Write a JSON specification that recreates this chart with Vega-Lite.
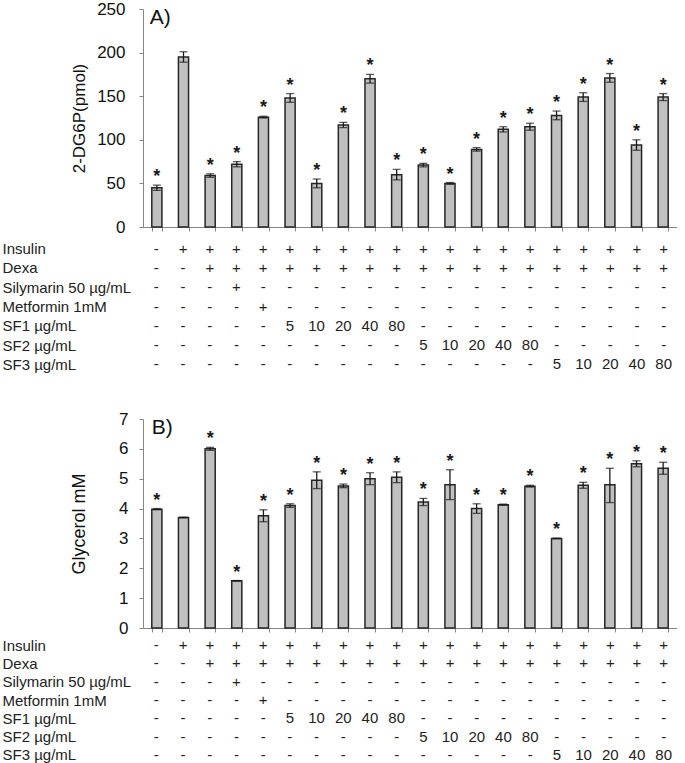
{
  "$schema": "https://vega.github.io/schema/vega-lite/v6.json",
  "padding": {"left": 2, "top": 0, "right": 0, "bottom": 0},
  "config": {
    "view": {"stroke": null},
    "font": "Liberation Sans",
    "axis": {"grid": false, "domainColor": "#868686", "tickColor": "#868686", "labelColor": "#111", "titleColor": "#111", "titleFontWeight": "normal", "labelFont": "Liberation Sans", "titleFont": "Liberation Sans", "labelOverlap": false}
  },
  "datasets": {
    "A": [
      {"i": 1, "v": 45, "lo": 42, "hi": 48, "s": "*"},
      {"i": 2, "v": 195, "lo": 189, "hi": 201, "s": ""},
      {"i": 3, "v": 59, "lo": 57, "hi": 61, "s": "*"},
      {"i": 4, "v": 72, "lo": 69, "hi": 75, "s": "*"},
      {"i": 5, "v": 126, "lo": 125, "hi": 127, "s": "*"},
      {"i": 6, "v": 148, "lo": 143, "hi": 153, "s": "*"},
      {"i": 7, "v": 50, "lo": 45, "hi": 55, "s": "*"},
      {"i": 8, "v": 117, "lo": 114, "hi": 120, "s": "*"},
      {"i": 9, "v": 170, "lo": 165, "hi": 175, "s": "*"},
      {"i": 10, "v": 60, "lo": 54, "hi": 66, "s": "*"},
      {"i": 11, "v": 71, "lo": 69, "hi": 73, "s": "*"},
      {"i": 12, "v": 50, "lo": 49, "hi": 51, "s": "*"},
      {"i": 13, "v": 89, "lo": 87, "hi": 91, "s": "*"},
      {"i": 14, "v": 112, "lo": 109, "hi": 115, "s": "*"},
      {"i": 15, "v": 115, "lo": 111, "hi": 119, "s": "*"},
      {"i": 16, "v": 128, "lo": 123, "hi": 133, "s": "*"},
      {"i": 17, "v": 149, "lo": 144, "hi": 154, "s": "*"},
      {"i": 18, "v": 171, "lo": 166, "hi": 176, "s": "*"},
      {"i": 19, "v": 94, "lo": 88, "hi": 100, "s": "*"},
      {"i": 20, "v": 149, "lo": 145, "hi": 153, "s": "*"}
    ],
    "B": [
      {"i": 1, "v": 3.98, "lo": 3.96, "hi": 4.0, "s": "*"},
      {"i": 2, "v": 3.7, "lo": 3.69, "hi": 3.71, "s": ""},
      {"i": 3, "v": 6.0, "lo": 5.95, "hi": 6.05, "s": "*"},
      {"i": 4, "v": 1.58, "lo": 1.57, "hi": 1.59, "s": "*"},
      {"i": 5, "v": 3.76, "lo": 3.56, "hi": 3.96, "s": "*"},
      {"i": 6, "v": 4.1, "lo": 4.04, "hi": 4.16, "s": "*"},
      {"i": 7, "v": 4.95, "lo": 4.67, "hi": 5.23, "s": "*"},
      {"i": 8, "v": 4.76, "lo": 4.7, "hi": 4.82, "s": "*"},
      {"i": 9, "v": 5.0, "lo": 4.8, "hi": 5.2, "s": "*"},
      {"i": 10, "v": 5.05, "lo": 4.87, "hi": 5.23, "s": "*"},
      {"i": 11, "v": 4.22, "lo": 4.1, "hi": 4.34, "s": "*"},
      {"i": 12, "v": 4.8, "lo": 4.3, "hi": 5.3, "s": "*"},
      {"i": 13, "v": 4.0, "lo": 3.84, "hi": 4.16, "s": "*"},
      {"i": 14, "v": 4.13, "lo": 4.11, "hi": 4.15, "s": "*"},
      {"i": 15, "v": 4.75, "lo": 4.72, "hi": 4.78, "s": "*"},
      {"i": 16, "v": 3.0, "lo": 2.99, "hi": 3.01, "s": "*"},
      {"i": 17, "v": 4.78, "lo": 4.68, "hi": 4.88, "s": "*"},
      {"i": 18, "v": 4.8, "lo": 4.2, "hi": 5.35, "s": "*"},
      {"i": 19, "v": 5.5, "lo": 5.4, "hi": 5.6, "s": "*"},
      {"i": 20, "v": 5.35, "lo": 5.15, "hi": 5.55, "s": "*"}
    ],
    "tbl": [
      {"i": 1, "Insulin": "-", "Dexa": "-", "Silymarin 50 µg/mL": "-", "Metformin 1mM": "-", "SF1 µg/mL": "-", "SF2 µg/mL": "-", "SF3 µg/mL": "-"},
      {"i": 2, "Insulin": "+", "Dexa": "-", "Silymarin 50 µg/mL": "-", "Metformin 1mM": "-", "SF1 µg/mL": "-", "SF2 µg/mL": "-", "SF3 µg/mL": "-"},
      {"i": 3, "Insulin": "+", "Dexa": "+", "Silymarin 50 µg/mL": "-", "Metformin 1mM": "-", "SF1 µg/mL": "-", "SF2 µg/mL": "-", "SF3 µg/mL": "-"},
      {"i": 4, "Insulin": "+", "Dexa": "+", "Silymarin 50 µg/mL": "+", "Metformin 1mM": "-", "SF1 µg/mL": "-", "SF2 µg/mL": "-", "SF3 µg/mL": "-"},
      {"i": 5, "Insulin": "+", "Dexa": "+", "Silymarin 50 µg/mL": "-", "Metformin 1mM": "+", "SF1 µg/mL": "-", "SF2 µg/mL": "-", "SF3 µg/mL": "-"},
      {"i": 6, "Insulin": "+", "Dexa": "+", "Silymarin 50 µg/mL": "-", "Metformin 1mM": "-", "SF1 µg/mL": "5", "SF2 µg/mL": "-", "SF3 µg/mL": "-"},
      {"i": 7, "Insulin": "+", "Dexa": "+", "Silymarin 50 µg/mL": "-", "Metformin 1mM": "-", "SF1 µg/mL": "10", "SF2 µg/mL": "-", "SF3 µg/mL": "-"},
      {"i": 8, "Insulin": "+", "Dexa": "+", "Silymarin 50 µg/mL": "-", "Metformin 1mM": "-", "SF1 µg/mL": "20", "SF2 µg/mL": "-", "SF3 µg/mL": "-"},
      {"i": 9, "Insulin": "+", "Dexa": "+", "Silymarin 50 µg/mL": "-", "Metformin 1mM": "-", "SF1 µg/mL": "40", "SF2 µg/mL": "-", "SF3 µg/mL": "-"},
      {"i": 10, "Insulin": "+", "Dexa": "+", "Silymarin 50 µg/mL": "-", "Metformin 1mM": "-", "SF1 µg/mL": "80", "SF2 µg/mL": "-", "SF3 µg/mL": "-"},
      {"i": 11, "Insulin": "+", "Dexa": "+", "Silymarin 50 µg/mL": "-", "Metformin 1mM": "-", "SF1 µg/mL": "-", "SF2 µg/mL": "5", "SF3 µg/mL": "-"},
      {"i": 12, "Insulin": "+", "Dexa": "+", "Silymarin 50 µg/mL": "-", "Metformin 1mM": "-", "SF1 µg/mL": "-", "SF2 µg/mL": "10", "SF3 µg/mL": "-"},
      {"i": 13, "Insulin": "+", "Dexa": "+", "Silymarin 50 µg/mL": "-", "Metformin 1mM": "-", "SF1 µg/mL": "-", "SF2 µg/mL": "20", "SF3 µg/mL": "-"},
      {"i": 14, "Insulin": "+", "Dexa": "+", "Silymarin 50 µg/mL": "-", "Metformin 1mM": "-", "SF1 µg/mL": "-", "SF2 µg/mL": "40", "SF3 µg/mL": "-"},
      {"i": 15, "Insulin": "+", "Dexa": "+", "Silymarin 50 µg/mL": "-", "Metformin 1mM": "-", "SF1 µg/mL": "-", "SF2 µg/mL": "80", "SF3 µg/mL": "-"},
      {"i": 16, "Insulin": "+", "Dexa": "+", "Silymarin 50 µg/mL": "-", "Metformin 1mM": "-", "SF1 µg/mL": "-", "SF2 µg/mL": "-", "SF3 µg/mL": "5"},
      {"i": 17, "Insulin": "+", "Dexa": "+", "Silymarin 50 µg/mL": "-", "Metformin 1mM": "-", "SF1 µg/mL": "-", "SF2 µg/mL": "-", "SF3 µg/mL": "10"},
      {"i": 18, "Insulin": "+", "Dexa": "+", "Silymarin 50 µg/mL": "-", "Metformin 1mM": "-", "SF1 µg/mL": "-", "SF2 µg/mL": "-", "SF3 µg/mL": "20"},
      {"i": 19, "Insulin": "+", "Dexa": "+", "Silymarin 50 µg/mL": "-", "Metformin 1mM": "-", "SF1 µg/mL": "-", "SF2 µg/mL": "-", "SF3 µg/mL": "40"},
      {"i": 20, "Insulin": "+", "Dexa": "+", "Silymarin 50 µg/mL": "-", "Metformin 1mM": "-", "SF1 µg/mL": "-", "SF2 µg/mL": "-", "SF3 µg/mL": "80"}
    ]
  },
  "spacing": 36,
  "vconcat": [
    {
      "spacing": 4,
      "vconcat": [
        {
          "width": 534, "height": 218,
          "data": {"name": "A"},
          "encoding": {
            "x": {"field": "i", "type": "ordinal", "scale": {"paddingInner": 0.62, "paddingOuter": 0.33},
                  "axis": {"labels": false, "title": null, "ticks": true, "tickBand": "extent", "tickSize": 4}}
          },
          "layer": [
            {"mark": {"type": "bar", "fill": "#c0c0c0", "stroke": "#262626", "strokeWidth": 1.5},
             "encoding": {"y": {"field": "v", "type": "quantitative", "title": "2-DG6P(pmol)", "scale": {"domain": [0, 250], "nice": false},
                                "axis": {"values": [0, 50, 100, 150, 200, 250], "labelFontSize": 17, "tickSize": 4, "labelPadding": 14, "titleFontSize": 17, "titlePadding": 8, "labelOverlap": false}}}},
            {"mark": {"type": "errorbar", "ticks": {"size": 8}, "color": "#1a1a1a", "thickness": 1.3},
             "encoding": {"y": {"field": "lo", "type": "quantitative", "title": "2-DG6P(pmol)",
                                "axis": {"values": [0, 50, 100, 150, 200, 250], "labelFontSize": 17, "tickSize": 4, "labelPadding": 14, "titleFontSize": 17, "titlePadding": 8, "labelOverlap": false}}, "y2": {"field": "hi"}}},
            {"mark": {"type": "text", "fontSize": 18, "fontWeight": "bold", "baseline": "alphabetic", "dy": -3, "color": "#1a1a1a"},
             "encoding": {"y": {"field": "hi", "type": "quantitative", "title": "2-DG6P(pmol)",
                                "axis": {"values": [0, 50, 100, 150, 200, 250], "labelFontSize": 17, "tickSize": 4, "labelPadding": 14, "titleFontSize": 17, "titlePadding": 8, "labelOverlap": false}}, "text": {"field": "s"}}},
            {"data": {"values": [{"t": "A)"}]},
             "mark": {"type": "text", "fontSize": 21, "align": "left", "baseline": "middle", "dx": -7, "color": "#111"},
             "encoding": {"x": {"datum": 1, "type": "ordinal"}, "y": {"datum": 240, "type": "quantitative", "title": "2-DG6P(pmol)",
                                "axis": {"values": [0, 50, 100, 150, 200, 250], "labelFontSize": 17, "tickSize": 4, "labelPadding": 14, "titleFontSize": 17, "titlePadding": 8, "labelOverlap": false}}, "text": {"field": "t"}}}
          ]
        },
        {
          "width": 534, "height": 135,
          "data": {"name": "tbl"},
          "transform": [{"fold": ["Insulin", "Dexa", "Silymarin 50 µg/mL", "Metformin 1mM", "SF1 µg/mL", "SF2 µg/mL", "SF3 µg/mL"], "as": ["row", "val"]}],
          "mark": {"type": "text", "fontSize": 15, "color": "#222"},
          "encoding": {
            "x": {"field": "i", "type": "ordinal", "scale": {"paddingInner": 0.62, "paddingOuter": 0.33}, "axis": null},
            "y": {"field": "row", "type": "nominal", "sort": ["Insulin", "Dexa", "Silymarin 50 µg/mL", "Metformin 1mM", "SF1 µg/mL", "SF2 µg/mL", "SF3 µg/mL"],
                  "scale": {"paddingInner": 0, "paddingOuter": 0},
                  "axis": {"title": null, "domain": false, "ticks": false, "labelAlign": "left", "labelPadding": 141, "labelFontSize": 15, "labelLimit": 0, "labelColor": "#222"}},
            "text": {"field": "val"}
          }
        }
      ]
    },
    {
      "spacing": 0,
      "vconcat": [
        {
          "width": 534, "height": 209,
          "data": {"name": "B"},
          "encoding": {
            "x": {"field": "i", "type": "ordinal", "scale": {"paddingInner": 0.62, "paddingOuter": 0.33},
                  "axis": {"labels": false, "title": null, "ticks": true, "tickBand": "extent", "tickSize": 4}}
          },
          "layer": [
            {"mark": {"type": "bar", "fill": "#c0c0c0", "stroke": "#262626", "strokeWidth": 1.5},
             "encoding": {"y": {"field": "v", "type": "quantitative", "title": "Glycerol mM", "scale": {"domain": [0, 7], "nice": false},
                                "axis": {"values": [0, 1, 2, 3, 4, 5, 6, 7], "labelFontSize": 17, "tickSize": 4, "labelPadding": 11, "titleFontSize": 18, "titlePadding": 30, "labelOverlap": false}}}},
            {"mark": {"type": "errorbar", "ticks": {"size": 8}, "color": "#1a1a1a", "thickness": 1.3},
             "encoding": {"y": {"field": "lo", "type": "quantitative", "title": "Glycerol mM",
                                "axis": {"values": [0, 1, 2, 3, 4, 5, 6, 7], "labelFontSize": 17, "tickSize": 4, "labelPadding": 11, "titleFontSize": 18, "titlePadding": 30, "labelOverlap": false}}, "y2": {"field": "hi"}}},
            {"mark": {"type": "text", "fontSize": 18, "fontWeight": "bold", "baseline": "alphabetic", "dy": -3, "color": "#1a1a1a"},
             "encoding": {"y": {"field": "hi", "type": "quantitative", "title": "Glycerol mM",
                                "axis": {"values": [0, 1, 2, 3, 4, 5, 6, 7], "labelFontSize": 17, "tickSize": 4, "labelPadding": 11, "titleFontSize": 18, "titlePadding": 30, "labelOverlap": false}}, "text": {"field": "s"}}},
            {"data": {"values": [{"t": "B)"}]},
             "mark": {"type": "text", "fontSize": 21, "align": "left", "baseline": "middle", "dx": -5, "color": "#111"},
             "encoding": {"x": {"datum": 1, "type": "ordinal"}, "y": {"datum": 6.7, "type": "quantitative", "title": "Glycerol mM",
                                "axis": {"values": [0, 1, 2, 3, 4, 5, 6, 7], "labelFontSize": 17, "tickSize": 4, "labelPadding": 11, "titleFontSize": 18, "titlePadding": 30, "labelOverlap": false}}, "text": {"field": "t"}}}
          ]
        },
        {
          "width": 534, "height": 128,
          "data": {"name": "tbl"},
          "transform": [{"fold": ["Insulin", "Dexa", "Silymarin 50 µg/mL", "Metformin 1mM", "SF1 µg/mL", "SF2 µg/mL", "SF3 µg/mL"], "as": ["row", "val"]}],
          "mark": {"type": "text", "fontSize": 15, "color": "#222"},
          "encoding": {
            "x": {"field": "i", "type": "ordinal", "scale": {"paddingInner": 0.62, "paddingOuter": 0.33}, "axis": null},
            "y": {"field": "row", "type": "nominal", "sort": ["Insulin", "Dexa", "Silymarin 50 µg/mL", "Metformin 1mM", "SF1 µg/mL", "SF2 µg/mL", "SF3 µg/mL"],
                  "scale": {"paddingInner": 0, "paddingOuter": 0},
                  "axis": {"title": null, "domain": false, "ticks": false, "labelAlign": "left", "labelPadding": 141, "labelFontSize": 15, "labelLimit": 0, "labelColor": "#222"}},
            "text": {"field": "val"}
          }
        }
      ]
    }
  ]
}
